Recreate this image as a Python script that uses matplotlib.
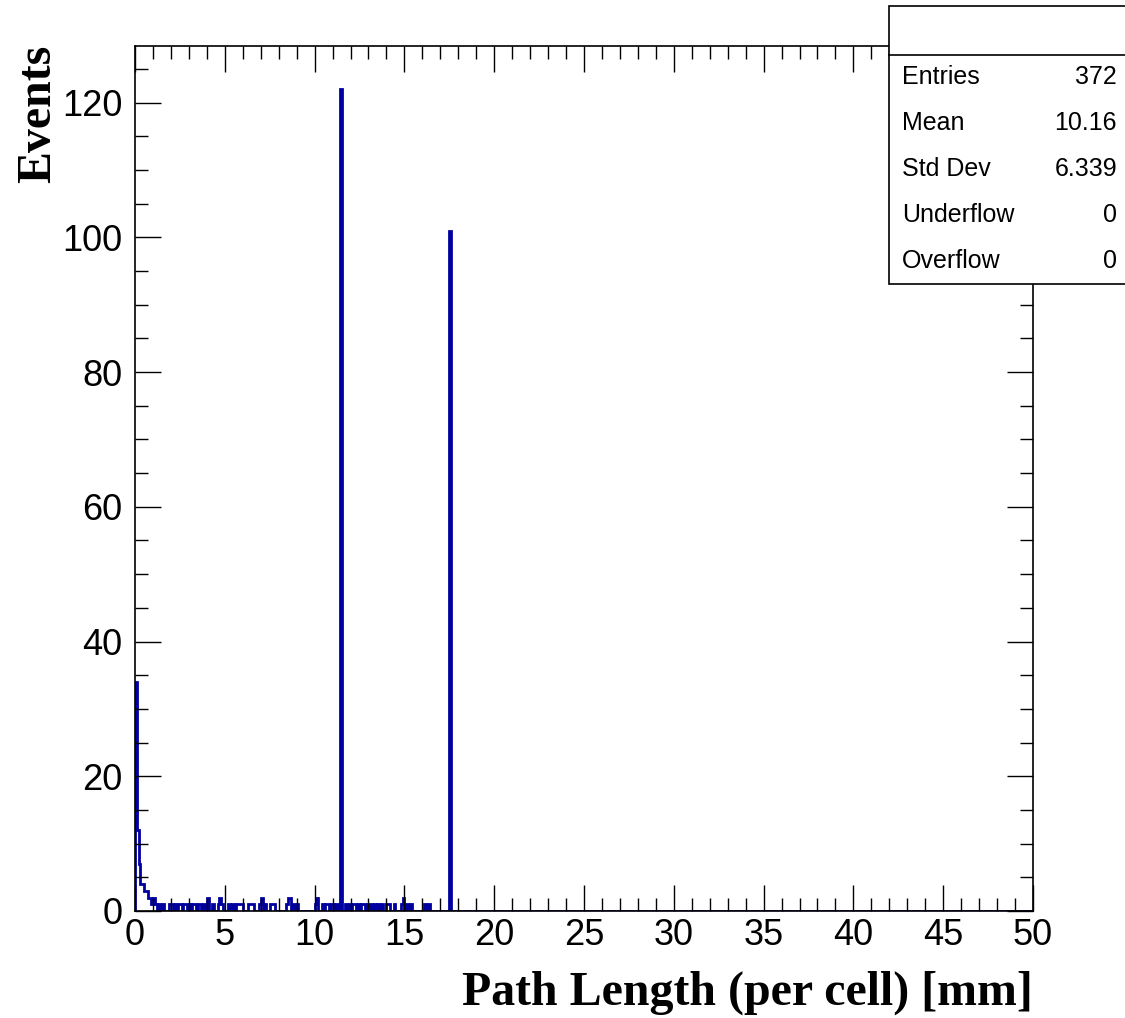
import numpy as np
import matplotlib
matplotlib.use('Agg')
import matplotlib.pyplot as plt
from matplotlib.patches import Rectangle
from matplotlib.ticker import MultipleLocator

# Histogram: 500 bins from 0 to 50 mm (bin width 0.1 mm)
n_bins = 500
x_min, x_max = 0.0, 50.0

# bin low edges [mm] and contents
low_bins = [0.0, 0.1, 0.2, 0.3, 0.4, 0.5, 0.6, 0.7, 0.8, 0.9, 1.0, 1.1]
low_counts = [34, 12, 7, 4, 4, 3, 3, 2, 2, 1, 2, 1]

mid_bins = [1.3, 1.5, 1.9, 2.0, 2.2, 2.4, 2.5, 2.7, 2.8, 3.0, 3.2, 3.3, 3.5, 3.6,
            3.8, 4.0, 4.3, 4.6, 4.7, 4.8, 5.2, 5.4, 5.6, 5.7, 5.8, 5.9, 6.3, 6.4,
            6.5, 6.9, 7.0, 7.2, 7.5, 7.6, 7.7, 8.4, 8.5, 8.6, 8.8, 9.0, 10.0, 10.1,
            10.4, 10.6, 10.7, 10.9, 11.0, 11.2, 11.7, 11.9, 12.1, 12.2, 12.4, 12.6,
            12.7, 12.9, 13.1, 13.3, 13.5, 13.7, 14.0, 14.1, 14.4, 14.8, 14.9, 15.1,
            15.3, 16.1, 16.3]
mid_counts = [1, 1, 1, 1, 1, 1, 1, 1, 1, 1, 1, 1, 1, 1,
              1, 2, 1, 1, 2, 1, 1, 1, 1, 1, 1, 1, 1, 1,
              1, 1, 2, 1, 1, 1, 1, 1, 2, 2, 1, 1, 1, 2,
              1, 1, 1, 1, 1, 1, 1, 1, 1, 1, 1, 1,
              1, 1, 1, 1, 1, 1, 1, 1, 1, 1, 2, 1,
              1, 1, 1]

peak_bins = [11.4, 17.5]
peak_counts = [122, 101]

stat_names = ['Entries', 'Mean', 'Std Dev', 'Underflow', 'Overflow']
stat_values = ['372', '10.16', '6.339', '0', '0']

# fill the histogram contents
edges = np.linspace(x_min, x_max, n_bins + 1)
counts = np.zeros(n_bins)
for pos_list, cnt_list in [(low_bins, low_counts), (mid_bins, mid_counts), (peak_bins, peak_counts)]:
    for p, c in zip(pos_list, cnt_list):
        counts[int(round(p * 10))] += c

W, H = 1125, 1018
fig = plt.figure(figsize=(W / 100, H / 100), dpi=100)
ax = fig.add_axes([135 / W, 1 - 911 / H, (1033 - 135) / W, (911 - 46) / H])

ax.stairs(counts, edges, color='#0000a0', linewidth=2.0, baseline=0)

ax.set_xlim(x_min, x_max)
ax.set_ylim(0, 128.4)

ax.xaxis.set_major_locator(MultipleLocator(5))
ax.xaxis.set_minor_locator(MultipleLocator(1))
ax.yaxis.set_major_locator(MultipleLocator(20))
ax.yaxis.set_minor_locator(MultipleLocator(5))

ax.tick_params(which='both', direction='in', top=True, right=True, width=1.0, color='black')
ax.tick_params(which='major', length=19)
ax.tick_params(which='minor', length=9.5)
ax.tick_params(axis='x', which='major', pad=5, labelsize=26)
ax.tick_params(axis='y', which='major', pad=9, labelsize=26)
for lab in ax.get_xticklabels() + ax.get_yticklabels():
    lab.set_family('Liberation Sans')

for sp in ax.spines.values():
    sp.set_linewidth(1.2)

# axis titles (ROOT style, right/top aligned)
fig.text(1033 / W, 1 - 1005 / H, 'Path Length (per cell) [mm]', ha='right', va='baseline',
         family='Liberation Serif', weight='bold', fontsize=34.5)
fig.text(38 / W, 1 - 45 / H, 'Events', ha='center', va='top', rotation=90,
         family='Liberation Serif', weight='bold', fontsize=34.5)

# stats box
box_left, box_top, box_bottom, box_div = 889 / W, 1 - 6 / H, 1 - 284 / H, 1 - 55 / H
fig.patches.append(Rectangle((box_left, box_bottom), 1.05 - box_left, box_top - box_bottom,
                             transform=fig.transFigure, facecolor='white', edgecolor='black',
                             linewidth=1.2, clip_on=False, zorder=5))
fig.add_artist(plt.Line2D([box_left, 1.0], [box_div, box_div], transform=fig.transFigure,
                          color='black', linewidth=1.2, zorder=6))
for i, (name, val) in enumerate(zip(stat_names, stat_values)):
    y = 1 - (77 + 46 * i) / H
    fig.text(902 / W, y, name, ha='left', va='center', family='Liberation Sans',
             fontsize=18, zorder=7)
    fig.text(1117 / W, y, val, ha='right', va='center', family='Liberation Sans',
             fontsize=18, zorder=7)

fig.savefig('out.png', dpi=100)
